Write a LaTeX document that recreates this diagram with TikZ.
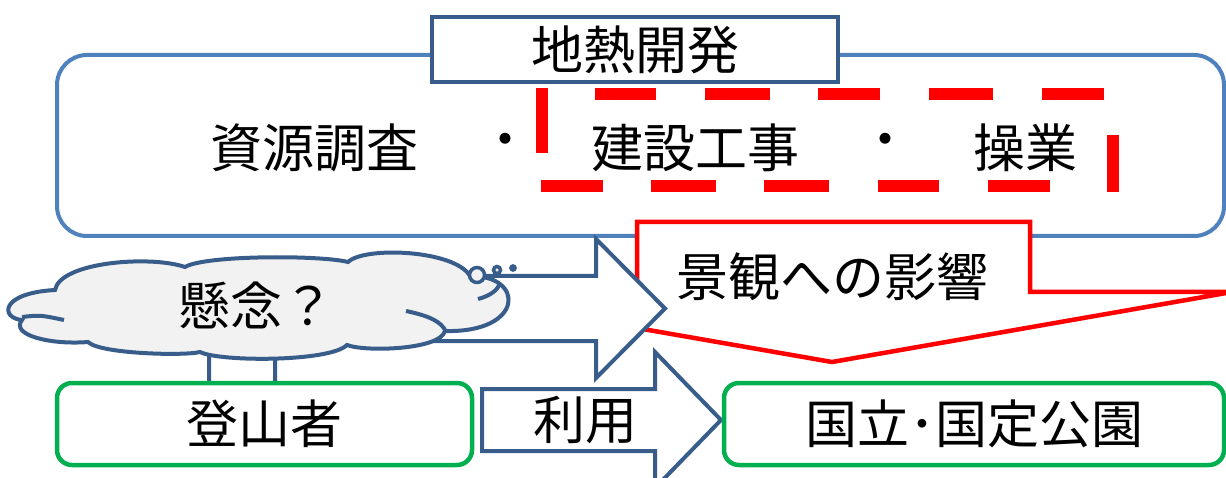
\documentclass[tikz,border=0pt]{standalone}
\usepackage{fontspec}
\setmainfont{Noto Sans CJK JP}
\definecolor{lblue}{HTML}{4F81BD}
\definecolor{dblue}{HTML}{385D8A}
\definecolor{grn}{HTML}{00B050}
\definecolor{cloudfill}{HTML}{F2F2F2}
\definecolor{pured}{HTML}{FF0000}
\tikzset{
  txt/.style={font=\fontsize{52}{62}\selectfont, inner sep=0pt},
  bigframe/.style={draw=lblue, line width=4pt, fill=white, rounded corners=30pt},
  titlebox/.style={draw=dblue, line width=4pt, fill=white, inner sep=0pt},
  greenbox/.style={draw=grn, line width=4.5pt, fill=white, rounded corners=15pt, inner sep=0pt, font=\fontsize{52}{62}\selectfont},
  reddash/.style={draw=pured, line width=12pt, line cap=butt},
  callout/.style={draw=pured, line width=4.5pt, fill=white, line join=miter},
  blockarrow/.style={draw=dblue, line width=4pt, fill=white, line join=miter},
  cloudline/.style={draw=dblue, line width=4pt, fill=cloudfill, line join=miter},
  crease/.style={draw=dblue, line width=4pt, line cap=butt},
  bubble/.style={draw=dblue, line width=3.5pt, fill=cloudfill}
}
\begin{document}
\begin{tikzpicture}[x=1pt,y=-1pt]
\useasboundingbox (0,0) rectangle (1226,478);
\clip (0,0) rectangle (1226,478);
% big frame
\draw[bigframe] (57,55) rectangle (1224,236);
\node[titlebox, minimum width=406pt, minimum height=65pt, txt] (title) at (635,49.5) {地熱開発};
% row of stages
\node[txt] (survey) at (314,148) {資源調査};
\node[txt] (dot1) at (505,146) {・};
\node[txt] (build) at (695,148) {建設工事};
\node[txt] (dot2) at (885,146) {・};
\node[txt] (oper) at (1025,148) {操業};
% red dashed frame
\foreach \a/\b in {595/656,705/770,818/880,929/993,1042/1104}
  \draw[reddash] (\a,94) -- (\b,94);
\foreach \a/\b in {541/603,651/716,764/829,878/939,988/1050}
  \draw[reddash] (\a,186) -- (\b,186);
\draw[reddash] (542,88) -- (542,153);
\draw[reddash] (1113,135) -- (1113,192);
% red callout
\draw[callout] (637,222) -- (1030,222) -- (1030,292) -- (1232,292) -- (832,362) -- (637,328) -- cycle;
\node[txt] (impact) at (832,277) {景観への影響};
% upper bent block arrow
\draw[blockarrow] (209,395) -- (209,276) -- (596,276) -- (596,239) -- (665,308.5) -- (596,378) -- (596,341) -- (275,341) -- (275,395) -- cycle;
% cloud
\path[cloudline] (55,290) .. controls (60,262) and (150,255) .. (185,267)
  .. controls (205,255) and (320,255) .. (348,262)
  .. controls (365,246) and (455,250) .. (470,276)
  .. controls (525,275) and (525,333) .. (445,331)
  .. controls (440,350) and (365,352) .. (347,345)
  .. controls (330,362) and (220,362) .. (200,352)
  .. controls (185,356) and (100,354) .. (88,342)
  .. controls (50,345) and (10,335) .. (22,320)
  .. controls (0,318) and (0,293) .. (55,290) -- cycle;
\draw[crease] (22,317) .. controls (40,315) .. (64,320);
\draw[crease] (406,311) .. controls (430,316) and (442,322) .. (446,332);
\draw[crease] (478,299) .. controls (490,296) and (498,290) .. (500,283);
\node[txt] (worry) at (256,305) {懸念？};
\draw[bubble] (477,275) circle (7.5pt);
\draw[bubble] (497,270) circle (3.5pt);
\draw[bubble] (513,268) circle (2pt);
% lower block arrow
\draw[blockarrow] (482,389) -- (655,389) -- (655,352) -- (721,420) -- (655,488) -- (655,451) -- (482,451) -- cycle;
\node[txt] (use) at (585,420) {利用};
% boxes
\node[greenbox, minimum width=415pt, minimum height=82pt] (climber) at (264.5,424) {登山者};
\node[greenbox, minimum width=500pt, minimum height=82pt] (park) at (974,424) {国立･国定公園};
\end{tikzpicture}
\end{document}
